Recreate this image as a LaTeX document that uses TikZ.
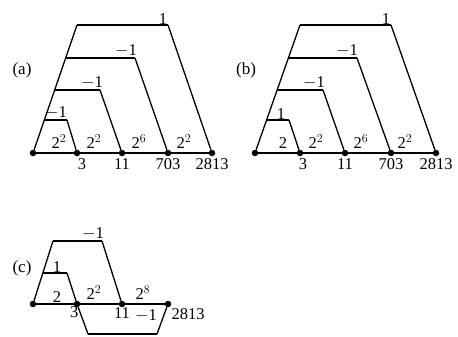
\documentclass[tikz,border=0pt]{standalone}
\usepackage{fontspec}
\setmainfont{Liberation Serif}
\usetikzlibrary{positioning}

\begin{document}
\begin{tikzpicture}[x=1pt, y=-1pt,
        dot/.style={circle, fill=black, inner sep=0pt, minimum size=6.5pt},
        leg/.style={line width=1.3pt},
        bar/.style={line width=2pt},
        wt/.style={font=\fontsize{16.5}{18}\selectfont, inner sep=0.5pt, anchor=south},
        num/.style={font=\fontsize{16.5}{18}\selectfont, inner sep=1pt},
        tag/.style={font=\fontsize{17}{19}\selectfont},
      ]
      \useasboundingbox (0,0) rectangle (458,337);
      % (a)
      \node [tag] (taga) at (22,70) {(a)};
      \node [dot] (a0) at (33,153) {};
      \node [dot] (a1) at (77,153) {};
      \node [dot] (a2) at (122,153) {};
      \node [dot] (a3) at (168,153) {};
      \node [dot] (a4) at (212,153) {};
      \coordinate (a1t) at (77,25);
      \coordinate (a1r) at (168,25);
      \coordinate (a2t) at (65.5,58);
      \coordinate (a2r) at (135,58);
      \coordinate (a3t) at (54.5,90);
      \coordinate (a3r) at (100,90);
      \coordinate (a4t) at (44,120);
      \coordinate (a4r) at (67,120);
      \draw [leg] (a0) -- (a4);
      \draw [leg] (a0) -- (a1t);
      \draw [bar] (a1t) -- (a1r);
      \draw [leg] (a1r) -- (a4);
      \draw [bar] (a2t) -- (a2r);
      \draw [leg] (a2r) -- (a3);
      \draw [bar] (a3t) -- (a3r);
      \draw [leg] (a3r) -- (a2);
      \draw [bar] (a4t) -- (a4r);
      \draw [leg] (a4r) -- (a1);
      \node [wt] (ka1) at (163,25) {1};
      \node [wt] (ka2) at (126,58) {$-$1};
      \node [wt] (ka3) at (92,90) {$-$1};
      \node [wt] (ka4) at (56,120) {$-$1};
      \node [wt] (wa1) at (59,149) {2$^2$};
      \node [wt] (wa2) at (94,149) {2$^2$};
      \node [wt] (wa3) at (139,149) {2$^6$};
      \node [wt] (wa4) at (184,149) {2$^2$};
      \node [num, below=1pt of a1, xshift=5pt] (na1) {3};
      \node [num, below=1pt of a2] (na2) {11};
      \node [num, below=1pt of a3] (na3) {703};
      \node [num, below=1pt of a4] (na4) {2813};
      % (b)
      \node [tag] (tagb) at (246,70) {(b)};
      \node [dot] (b0) at (255,153) {};
      \node [dot] (b1) at (300,153) {};
      \node [dot] (b2) at (345,153) {};
      \node [dot] (b3) at (391,153) {};
      \node [dot] (b4) at (436,153) {};
      \coordinate (b1t) at (300,25);
      \coordinate (b1r) at (391,25);
      \coordinate (b2t) at (288.5,58);
      \coordinate (b2r) at (357,58);
      \coordinate (b3t) at (277,90);
      \coordinate (b3r) at (323,90);
      \coordinate (b4t) at (266.5,120);
      \coordinate (b4r) at (289,120);
      \draw [leg] (b0) -- (b4);
      \draw [leg] (b0) -- (b1t);
      \draw [bar] (b1t) -- (b1r);
      \draw [leg] (b1r) -- (b4);
      \draw [bar] (b2t) -- (b2r);
      \draw [leg] (b2r) -- (b3);
      \draw [bar] (b3t) -- (b3r);
      \draw [leg] (b3r) -- (b2);
      \draw [bar] (b4t) -- (b4r);
      \draw [leg] (b4r) -- (b1);
      \node [wt] (kb1) at (386,25) {1};
      \node [wt] (kb2) at (347,58) {$-$1};
      \node [wt] (kb3) at (314,90) {$-$1};
      \node [wt] (kb4) at (281,120) {1};
      \node [wt] (wb1) at (283,149) {2};
      \node [wt] (wb2) at (316,149) {2$^2$};
      \node [wt] (wb3) at (361,149) {2$^6$};
      \node [wt] (wb4) at (405,149) {2$^2$};
      \node [num, below=1pt of b1, xshift=3pt] (nb1) {3};
      \node [num, below=1pt of b2] (nb2) {11};
      \node [num, below=1pt of b3] (nb3) {703};
      \node [num, below=1pt of b4] (nb4) {2813};
      % (c)
      \node [tag] (tagc) at (22,268) {(c)};
      \node [dot] (c0) at (33,304) {};
      \node [dot] (c1) at (77,304) {};
      \node [dot] (c2) at (122,304) {};
      \node [dot] (c3) at (168,304) {};
      \coordinate (c1t) at (53,241);
      \coordinate (c1r) at (102,241);
      \coordinate (c2t) at (43,273);
      \coordinate (c2r) at (67,273);
      \coordinate (c3l) at (88,334);
      \coordinate (c3r) at (157,334);
      \draw [leg] (c0) -- (c3);
      \draw [leg] (c0) -- (c1t);
      \draw [bar] (c1t) -- (c1r);
      \draw [leg] (c1r) -- (c2);
      \draw [bar] (c2t) -- (c2r);
      \draw [leg] (c2r) -- (c1);
      \draw [leg] (c1) -- (c3l);
      \draw [bar] (c3l) -- (c3r);
      \draw [leg] (c3r) -- (c3);
      \node [wt] (kc1) at (93,241) {$-$1};
      \node [wt] (kc2) at (57,273) {1};
      \node [wt] (wc1) at (57,303) {2};
      \node [wt] (wc2) at (94,300) {2$^2$};
      \node [wt] (wc3) at (143,300) {2$^8$};
      \node [num, below left=-1pt and -5pt of c1] (nc1) {3};
      \node [num, below=-1pt of c2] (nc2) {11};
      \node [num] (kc3) at (146,316) {$-$1};
      \node [num, right=-1pt of c3, yshift=-10pt] (nc3) {2813};
    \end{tikzpicture}
\end{document}
